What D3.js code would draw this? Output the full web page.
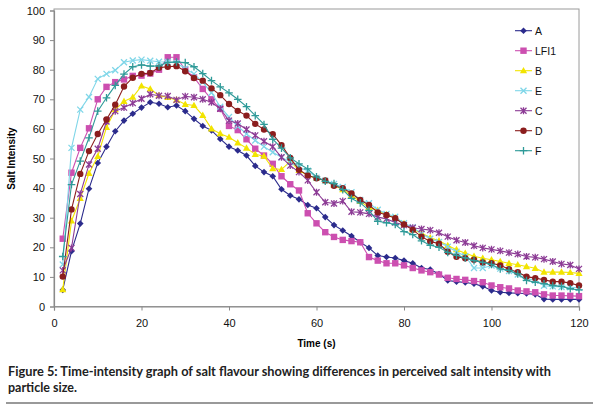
<!DOCTYPE html>
<html>
<head>
<meta charset="utf-8">
<script src="https://cdn.jsdelivr.net/npm/d3@7"></script>
<style>
  html, body { margin: 0; padding: 0; background: #ffffff; }
  svg { display: block; }
</style>
</head>
<body>
<svg id="chart" width="600" height="408"></svg>
<script>
// ---- Data ----
const times = [2,4,6,8,10,12,14,16,18,20,22,24,26,28,30,32,34,36,38,40,
  42,44,46,48,50,52,54,56,58,60,62,64,66,68,70,72,74,76,78,80,
  82,84,86,88,90,92,94,96,98,100,102,104,106,108,110,112,114,116,118,120];

const seriesNames = ["A", "LFI1", "B", "E", "C", "D", "F"];

const valuesA = [5.6,18.7,28,39.8,48.5,54,59.2,62.8,65.1,67.2,
  69,68.5,67.3,67.9,66,63.4,61,59.5,56.6,54,
  52.7,51,47.5,45.4,44,39.6,37.5,36.2,34.3,33.2,
  30.2,27.5,25.7,23.8,21.7,19.8,17.2,16.7,16.4,15.5,
  14.6,13,12.5,11,8.8,8.4,8.1,7.7,6.8,5.4,
  4.8,4.6,4.5,4.4,4.1,2.5,2.4,2.4,2.4,2.4];

const valuesLFI1 = [22.9,45.2,53.6,60.2,70,74.2,75.8,76.7,77.9,78,
  78.7,80,84.2,84.2,80,77.4,73.5,70,66.8,61,
  59.6,56.5,53.3,51,48.2,44,41.3,39.2,31.5,28.1,
  25.1,23.5,22.5,22.1,21.7,16.7,15.5,14.6,14.6,13.9,
  13,12.2,11.6,10.8,9.7,9.3,9.0,8.6,8.2,7.1,
  6.5,6.1,5.4,5.1,4.8,4.1,3.7,3.7,3.6,3.5];

const valuesB = [5.7,28.9,36.5,45,50.7,60.5,66.5,69.3,70.7,74.5,
  73.5,71.3,70.6,69.8,68.3,67.9,64.6,60,58.4,57.2,
  55.3,53.5,51.4,50.8,46.6,46.3,49,46,44.3,43.3,
  42.5,41,39.5,37.5,35.5,33.5,32.5,31,30,28,
  26,24.8,23.2,22.2,20.6,19.2,18,17,16.3,15.8,
  15.2,14.6,14.1,13.5,12.9,11.6,11.6,11.6,11.5,11.2];

const valuesE = [14.2,53.6,66.5,70.8,76.9,78.6,79.8,82.5,83.1,83.4,
  83,82.7,82.6,82.3,80.3,78.6,75.8,72.2,67.5,64,
  60.9,58.3,56.1,54,52.1,50.4,48.8,47,45.9,43.5,
  42.5,41.4,40.4,38.6,36,34.9,32.7,31.3,30.3,28.1,
  26.8,24.6,22.9,21.8,20.2,18.5,17,13,13,13.8,
  12.8,12,10.8,9.5,8.8,7,6.8,6.6,6.5,6.3];

const valuesC = [12.2,19.8,38,48,53.3,62.5,66,67.2,68.7,70.2,
  71.7,71.2,71.1,69.8,71,70.7,70,69,66.8,62.8,
  61.8,59.8,57.8,55.8,54,50.4,47.6,45.4,42.6,38.6,
  35.2,34.8,35.6,32,31.8,31.3,30.2,29.6,28.4,27.5,
  26.6,26.2,25.8,24.9,23.6,22.4,21.6,20.5,19.8,19.3,
  18.8,18.2,17.7,16.9,16.6,16,15.2,14.4,14,12.7];

const valuesD = [10.1,32.8,44.8,52.5,58.3,63.2,68.2,74.3,77.3,78.6,
  78.9,80.7,81,81.2,79.5,77.2,76.3,73.7,71.4,68.4,
  66.1,64.5,61.7,59.8,58.2,54.5,50.2,46.2,44.3,43.3,
  42.6,40.8,40,38.2,36,34.3,31.8,30.9,29.8,27.7,
  25.9,23.6,22,21.2,18.5,16.8,16.3,15.8,14.9,14.6,
  13.9,12.6,11.6,10.1,9.6,9,8.4,8.4,7.9,7.1];

const valuesF = [16.9,41.2,49.1,57,66,70.5,74.7,78.5,81,81.6,
  81.2,81.3,82.5,82.6,82.4,81,78.7,76.3,74.2,72.2,
  70,67.5,64.5,61.5,56.5,53.5,50.2,48.2,46.5,43.8,
  42.3,41.5,39.5,36.5,35,32.5,28.8,28.3,27.7,25.3,
  24.3,22.2,20.7,20,18.3,17.3,16.4,15.5,14.9,14.2,
  12.7,12.2,11,8.8,8.2,7.7,7.1,6.8,6,5.6];

const xTicks = [0, 20, 40, 60, 80, 100, 120];
const yTicks = [0, 10, 20, 30, 40, 50, 60, 70, 80, 90, 100];

const xTitle = "Time (s)";
const yTitle = "Salt Intensity";
const captionLines = [
  "Figure 5: Time-intensity graph of salt flavour showing differences in perceived salt intensity with",
  "particle size."
];

// ---- Styles ----
const seriesValues = [valuesA, valuesLFI1, valuesB, valuesE, valuesC, valuesD, valuesF];
const colors = ["#2b2b8c", "#cc4fb0", "#f2e400", "#7fd6e8", "#8c3b95", "#8b1d1d", "#2e9a98"];
const markers = ["diamond", "square", "triangle", "x", "star", "circle", "plus"];

const series = seriesNames.map((name, i) => ({
  name, color: colors[i], marker: markers[i],
  points: times.map((t, j) => ({ t, v: seriesValues[i][j] }))
}));

const svg = d3.select("#chart");
const plotL = 54, plotR = 579, plotT = 10.5, plotB = 306.5;

const x = d3.scaleLinear().domain([0, 120]).range([plotL, plotR]);
const y = d3.scaleLinear().domain([0, 100]).range([plotB, plotT]);

// plot frame
svg.append("rect")
  .attr("x", plotL).attr("y", plotT - 1.5)
  .attr("width", plotR - plotL).attr("height", plotB - plotT + 1.5)
  .attr("fill", "none").attr("stroke", "#9a9a9a").attr("stroke-width", 1);

// axes
const fontFam = "'Liberation Sans', Arial, sans-serif";
const yAxis = svg.append("g").attr("transform", `translate(${plotL},0)`)
  .call(d3.axisLeft(y).tickValues(yTicks).tickSize(4).tickPadding(5).tickFormat(d3.format("d")));
const xAxis = svg.append("g").attr("transform", `translate(0,${plotB})`)
  .call(d3.axisBottom(x).tickValues(xTicks).tickSize(4).tickPadding(9).tickFormat(d3.format("d")));
[xAxis, yAxis].forEach(g => {
  g.attr("font-family", fontFam);
  g.select(".domain").attr("stroke", "#8a8a8a").attr("stroke-width", 1.2);
  g.selectAll(".tick line").attr("stroke", "#8a8a8a");
  g.selectAll("text").attr("font-family", fontFam).attr("font-size", 11).attr("fill", "#111");
});

// axis titles
svg.append("text")
  .attr("x", (plotL + plotR) / 2).attr("y", 347)
  .attr("text-anchor", "middle")
  .attr("font-family", fontFam).attr("font-size", 10).attr("font-weight", "bold")
  .text(xTitle);
svg.append("text")
  .attr("transform", `translate(15,${(plotT + plotB) / 2}) rotate(-90)`)
  .attr("text-anchor", "middle")
  .attr("font-family", fontFam).attr("font-size", 10).attr("font-weight", "bold")
  .text(yTitle);

// marker drawing
function drawMarker(g, type, color, cx, cy) {
  if (type === "diamond") {
    g.append("path").attr("d", `M${cx},${cy-3.3}L${cx+3.3},${cy}L${cx},${cy+3.3}L${cx-3.3},${cy}Z`)
      .attr("fill", color);
  } else if (type === "square") {
    g.append("rect").attr("x", cx-3.2).attr("y", cy-3.2).attr("width", 6.4).attr("height", 6.4)
      .attr("fill", color);
  } else if (type === "triangle") {
    g.append("path").attr("d", `M${cx},${cy-3.8}L${cx+3.6},${cy+2.6}L${cx-3.6},${cy+2.6}Z`)
      .attr("fill", color);
  } else if (type === "circle") {
    g.append("circle").attr("cx", cx).attr("cy", cy).attr("r", 3.2).attr("fill", color);
  } else if (type === "x") {
    g.append("path").attr("d", `M${cx-3},${cy-3}L${cx+3},${cy+3}M${cx-3},${cy+3}L${cx+3},${cy-3}`)
      .attr("stroke", color).attr("stroke-width", 1.3).attr("fill", "none");
  } else if (type === "star") {
    g.append("path").attr("d", `M${cx-3},${cy-3}L${cx+3},${cy+3}M${cx-3},${cy+3}L${cx+3},${cy-3}M${cx},${cy-3.5}L${cx},${cy+3.5}`)
      .attr("stroke", color).attr("stroke-width", 1.3).attr("fill", "none");
  } else if (type === "plus") {
    g.append("path").attr("d", `M${cx-3.8},${cy}L${cx+3.8},${cy}M${cx},${cy-3.8}L${cx},${cy+3.8}`)
      .attr("stroke", color).attr("stroke-width", 1.3).attr("fill", "none");
  }
}

const line = d3.line().x(d => x(d.t)).y(d => y(d.v));

series.forEach(s => {
  const g = svg.append("g");
  g.append("path").datum(s.points)
    .attr("d", line).attr("fill", "none")
    .attr("stroke", s.color).attr("stroke-width", 1.1);
  s.points.forEach(p => drawMarker(g, s.marker, s.color, x(p.t), y(p.v)));
});

// legend
const legend = svg.append("g");
series.forEach((s, i) => {
  const ly = 30.7 + i * 20;
  legend.append("line").attr("x1", 515).attr("x2", 532).attr("y1", ly).attr("y2", ly)
    .attr("stroke", s.color).attr("stroke-width", 1.1);
  drawMarker(legend, s.marker, s.color, 523.5, ly);
  legend.append("text").attr("x", 535).attr("y", ly + 3.8)
    .attr("font-family", fontFam).attr("font-size", 10.5).attr("fill", "#111")
    .text(s.name);
});

// caption
const capFont = "Lato, 'Open Sans', sans-serif";
svg.append("text").attr("x", 8).attr("y", 376)
  .attr("font-family", capFont).attr("font-size", 12.5).attr("font-weight", "bold").attr("fill", "#222")
  .attr("textLength", 543).attr("lengthAdjust", "spacingAndGlyphs")
  .text(captionLines[0]);
svg.append("text").attr("x", 8).attr("y", 392)
  .attr("font-family", capFont).attr("font-size", 12.5).attr("font-weight", "bold").attr("fill", "#222")
  .text(captionLines[1]);
svg.append("line").attr("x1", 6).attr("x2", 593).attr("y1", 403).attr("y2", 403)
  .attr("stroke", "#777").attr("stroke-width", 1.5);
</script>
</body>
</html>
